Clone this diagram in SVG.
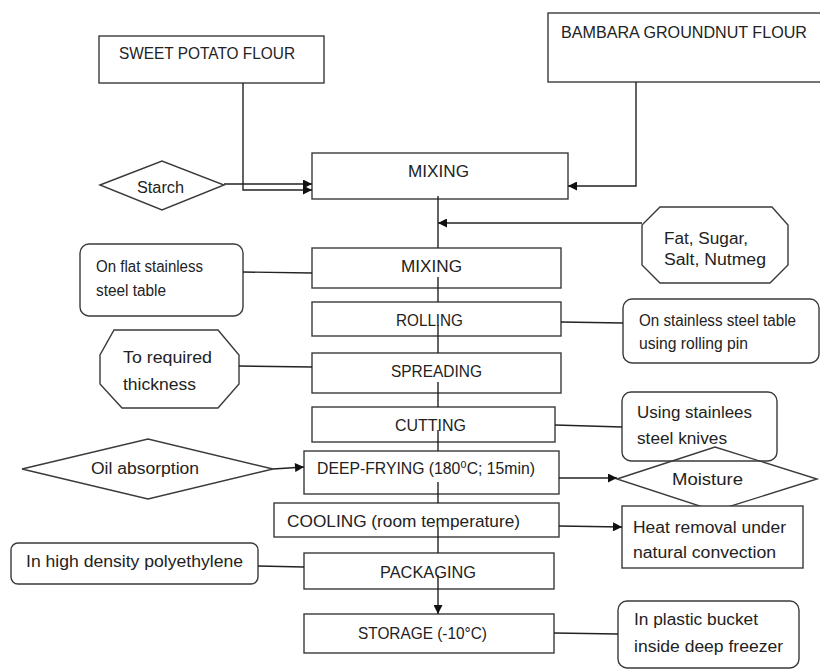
<svg xmlns="http://www.w3.org/2000/svg" width="820" height="669" viewBox="0 0 820 669">
<defs>
<marker id="arr" viewBox="0 0 10 10" refX="10" refY="5" markerWidth="10" markerHeight="9" markerUnits="userSpaceOnUse" orient="auto">
<path d="M0,0 L10,5 L0,10 z" fill="#111"/>
</marker>
<style>
.box{fill:#fff;stroke:#3a3a3a;stroke-width:1.4}
.open{fill:none;stroke:#3a3a3a;stroke-width:1.4}
.ln{fill:none;stroke:#222;stroke-width:1.4}
.a{marker-end:url(#arr)}
text{font-family:"Liberation Sans","DejaVu Sans",Arial,sans-serif;fill:#222}
.c{font-size:17px}
.l{font-size:16px}
</style>
</defs>
<rect width="820" height="669" fill="#fff"/>

<g id="sweet-potato-flour">
<rect class="box" x="99" y="36" width="225" height="47"/>
<text class="c" x="119" y="59" textLength="176" lengthAdjust="spacingAndGlyphs">SWEET POTATO FLOUR</text>
</g>
<g id="bambara-flour">
<rect class="box" x="548" y="13" width="280" height="69"/>
<text class="c" x="561" y="38" textLength="246" lengthAdjust="spacingAndGlyphs">BAMBARA GROUNDNUT FLOUR</text>
</g>
<g id="starch">
<polygon class="box" points="100,185 162,161 224,185 162,210"/>
<text class="l" x="137" y="193" textLength="47" lengthAdjust="spacingAndGlyphs">Starch</text>
</g>
<g id="mixing1">
<rect class="box" x="312" y="153" width="256" height="46"/>
<text class="c" x="408" y="177" textLength="61" lengthAdjust="spacingAndGlyphs">MIXING</text>
</g>
<g id="fat-sugar">
<polygon class="box" points="660,207 772,207 788,225 788,265 770,283 660,283 642,265 642,225"/>
<text class="l" x="664" y="244" textLength="84" lengthAdjust="spacingAndGlyphs">Fat, Sugar,</text>
<text class="l" x="664" y="265" textLength="102" lengthAdjust="spacingAndGlyphs">Salt, Nutmeg</text>
</g>
<g id="mixing2">
<rect class="box" x="312" y="248" width="249" height="40"/>
<text class="c" x="401" y="272" textLength="61" lengthAdjust="spacingAndGlyphs">MIXING</text>
</g>
<g id="flat-table">
<rect class="box" x="80" y="244" width="163" height="72" rx="9"/>
<text class="l" x="96" y="272" textLength="107" lengthAdjust="spacingAndGlyphs">On flat stainless</text>
<text class="l" x="96" y="296" textLength="70" lengthAdjust="spacingAndGlyphs">steel table</text>
</g>
<g id="rolling">
<rect class="box" x="312" y="302" width="249" height="34"/>
<text class="c" x="396" y="326" textLength="67" lengthAdjust="spacingAndGlyphs">ROLLING</text>
</g>
<g id="rolling-pin">
<rect class="box" x="623" y="299" width="196" height="64" rx="9"/>
<text class="l" x="639" y="326" textLength="157" lengthAdjust="spacingAndGlyphs">On stainless steel table</text>
<text class="l" x="639" y="349" textLength="109" lengthAdjust="spacingAndGlyphs">using rolling pin</text>
</g>
<g id="thickness">
<polygon class="box" points="114,330 218,330 239,355 239,384 218,408 122,408 100,384 100,355"/>
<text class="l" x="123" y="363" textLength="89" lengthAdjust="spacingAndGlyphs">To required</text>
<text class="l" x="123" y="390" textLength="73" lengthAdjust="spacingAndGlyphs">thickness</text>
</g>
<g id="spreading">
<rect class="box" x="312" y="353" width="249" height="40"/>
<text class="c" x="391" y="377" textLength="91" lengthAdjust="spacingAndGlyphs">SPREADING</text>
</g>
<g id="cutting">
<rect class="box" x="312" y="407" width="243" height="35"/>
<text class="c" x="395" y="431" textLength="71" lengthAdjust="spacingAndGlyphs">CUTTING</text>
</g>
<g id="knives">
<rect class="open" x="622" y="392" width="155" height="69" rx="9"/>
<text class="l" x="637" y="418" textLength="115" lengthAdjust="spacingAndGlyphs">Using stainlees</text>
<text class="l" x="637" y="444" textLength="90" lengthAdjust="spacingAndGlyphs">steel knives</text>
</g>
<g id="oil-absorption">
<polygon class="box" points="22,469 148,439 273,469 148,499"/>
<text class="l" x="91" y="474" textLength="108" lengthAdjust="spacingAndGlyphs">Oil absorption</text>
</g>
<g id="deep-frying">
<rect class="box" x="304" y="451" width="255" height="43"/>
<text class="c" x="317" y="474" textLength="218" lengthAdjust="spacingAndGlyphs">DEEP-FRYING (180⁰C; 15min)</text>
</g>
<g id="moisture">
<polygon class="open" points="617,479 715,447 817,479 715,511"/>
<text class="l" x="672" y="485" textLength="71" lengthAdjust="spacingAndGlyphs">Moisture</text>
</g>
<g id="cooling">
<rect class="box" x="274" y="503" width="285" height="34"/>
<text class="c" x="287" y="527" textLength="233" lengthAdjust="spacingAndGlyphs">COOLING (room temperature)</text>
</g>
<g id="heat-removal">
<rect class="box" x="622" y="506" width="181" height="62"/>
<text class="l" x="633" y="533" textLength="153" lengthAdjust="spacingAndGlyphs">Heat removal under</text>
<text class="l" x="633" y="558" textLength="143" lengthAdjust="spacingAndGlyphs">natural convection</text>
</g>
<g id="polyethylene">
<rect class="box" x="11" y="543" width="247" height="41" rx="7"/>
<text class="l" x="26" y="567" textLength="217" lengthAdjust="spacingAndGlyphs">In high density polyethylene</text>
</g>
<g id="packaging">
<rect class="box" x="304" y="553" width="250" height="36"/>
<text class="c" x="380" y="578" textLength="96" lengthAdjust="spacingAndGlyphs">PACKAGING</text>
</g>
<g id="storage">
<rect class="box" x="304" y="614" width="250" height="39"/>
<text class="c" x="358" y="639" textLength="129" lengthAdjust="spacingAndGlyphs">STORAGE (-10°C)</text>
</g>
<g id="plastic-bucket">
<rect class="box" x="618" y="601" width="181" height="67" rx="9"/>
<text class="l" x="634" y="625" textLength="124" lengthAdjust="spacingAndGlyphs">In plastic bucket</text>
<text class="l" x="634" y="652" textLength="149" lengthAdjust="spacingAndGlyphs">inside deep freezer</text>
</g>

<g id="connectors">
<path class="ln a" d="M243,83 V190 H312"/>
<path class="ln a" d="M636,82 V186 H568"/>
<path class="ln a" d="M224,184 H312"/>
<path class="ln a" d="M642,223 H438"/>
<path class="ln" d="M438,196 V248"/>
<path class="ln" d="M438,277 V302"/>
<path class="ln" d="M438,325 V353"/>
<path class="ln" d="M438,382 V407"/>
<path class="ln" d="M438,430 V451"/>
<path class="ln" d="M438,482 V503"/>
<path class="ln" d="M438,527 V553"/>
<path class="ln a" d="M438,575 V614"/>
<path class="ln a" d="M273,469 L304,467"/>
<path class="ln a" d="M559,478 H617"/>
<path class="ln a" d="M559,526 L622,527"/>
<path class="ln" d="M243,272 L312,273"/>
<path class="ln" d="M561,322 L623,323"/>
<path class="ln" d="M239,366 L312,367"/>
<path class="ln" d="M555,425 L622,427"/>
<path class="ln" d="M258,566 L304,567"/>
<path class="ln" d="M554,633 L618,634"/>
</g>
</svg>
